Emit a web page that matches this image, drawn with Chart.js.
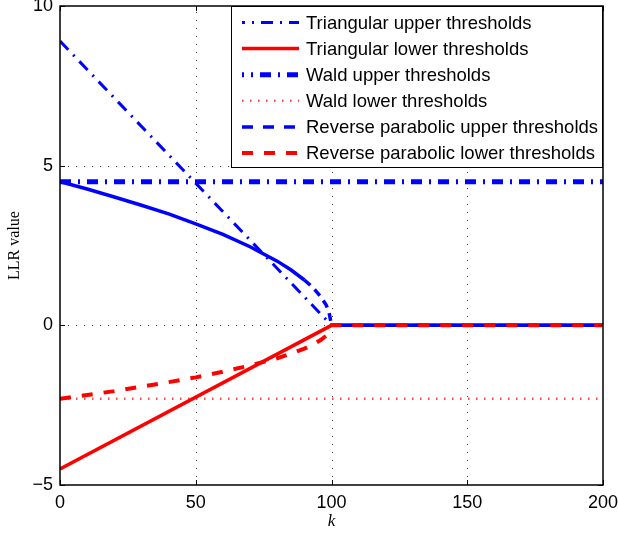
<!DOCTYPE html>
<html>
<head>
<meta charset="utf-8">
<script src="https://cdn.jsdelivr.net/npm/chart.js@4/dist/chart.umd.min.js"></script>
<style>
  html, body { margin: 0; padding: 0; background: #fff; }
  canvas { display: block; }
</style>
</head>
<body>
<canvas id="llr" width="618" height="535"></canvas>
<script>
// ─── data ───
const kTri        = [0, 100, 200];
const triUpper    = [8.9, 0, 0];
const triLower    = [-4.5, 0, 0];

const kWald       = [0, 200];
const waldUpper   = [4.5, 4.5];
const waldLower   = [-2.3, -2.3];

const kRP         = [0, 10, 20, 30, 40, 50, 60, 70, 80, 85, 90, 92, 94, 96, 98, 99, 100, 200];
const rpUpper     = [4.50, 4.27, 4.02, 3.76, 3.49, 3.18, 2.85, 2.46, 2.01, 1.74, 1.42, 1.27, 1.10, 0.90, 0.64, 0.45, 0, 0];
const rpLower     = [-2.30, -2.18, -2.06, -1.92, -1.78, -1.63, -1.45, -1.26, -1.03, -0.89, -0.73, -0.65, -0.56, -0.46, -0.33, -0.23, 0, 0];

const xTicks      = [0, 50, 100, 150, 200];
const yTicks      = [-5, 0, 5, 10];
const seriesNames = [
  'Triangular upper thresholds',
  'Triangular lower thresholds',
  'Wald upper thresholds',
  'Wald lower thresholds',
  'Reverse parabolic upper thresholds',
  'Reverse parabolic lower thresholds',
];

const BLUE = '#0000ff';
const RED  = '#ff0000';
const SANS = "'Liberation Sans', Arial, sans-serif";
const SERIF = "'Liberation Serif', 'Times New Roman', serif";

const pts = (xs, ys) => xs.map((x, i) => ({ x, y: ys[i] }));

// 画框、网格、内向刻度
const framePlugin = {
  id: 'frame',
  beforeDatasetsDraw(chart) {
    const { ctx, chartArea: a, scales: { x, y } } = chart;
    ctx.save();
    ctx.strokeStyle = 'rgba(0,0,0,0.8)';
    ctx.lineWidth = 1;
    ctx.setLineDash([1, 7]);
    xTicks.slice(1, -1).forEach((v) => {
      const px = Math.round(x.getPixelForValue(v)) + 0.5;
      ctx.beginPath(); ctx.moveTo(px, a.bottom); ctx.lineTo(px, a.top); ctx.stroke();
    });
    yTicks.slice(1, -1).forEach((v) => {
      const py = Math.round(y.getPixelForValue(v)) + 0.5;
      ctx.beginPath(); ctx.moveTo(a.left, py); ctx.lineTo(a.right, py); ctx.stroke();
    });
    ctx.restore();
  },
  afterDatasetsDraw(chart) {
    const { ctx, chartArea: a, scales: { x, y } } = chart;
    ctx.save();
    ctx.strokeStyle = '#000';
    ctx.lineWidth = 1.5;
    ctx.setLineDash([]);
    ctx.strokeRect(a.left, a.top, a.right - a.left, a.bottom - a.top);
    ctx.lineWidth = 1;
    const tl = 5;
    xTicks.forEach((v) => {
      const px = Math.round(x.getPixelForValue(v)) + 0.5;
      ctx.beginPath();
      ctx.moveTo(px, a.bottom); ctx.lineTo(px, a.bottom - tl);
      ctx.moveTo(px, a.top); ctx.lineTo(px, a.top + tl);
      ctx.stroke();
    });
    yTicks.forEach((v) => {
      const py = Math.round(y.getPixelForValue(v)) + 0.5;
      ctx.beginPath();
      ctx.moveTo(a.left, py); ctx.lineTo(a.left + tl, py);
      ctx.moveTo(a.right, py); ctx.lineTo(a.right - tl, py);
      ctx.stroke();
    });
    ctx.restore();
  },
};

// 图例（带线型）
const legendPlugin = {
  id: 'lineLegend',
  afterDraw(chart) {
    const { ctx, chartArea: a } = chart;
    const box = { left: 231, top: a.top, right: a.right, bottom: 168 };
    const rowH = 26.1;
    ctx.save();
    ctx.fillStyle = '#fff';
    ctx.fillRect(box.left, box.top, box.right - box.left, box.bottom - box.top);
    ctx.strokeStyle = '#000';
    ctx.lineWidth = 1;
    ctx.strokeRect(box.left + 0.5, box.top + 0.5, box.right - box.left - 1, box.bottom - box.top - 1);
    chart.data.datasets.forEach((ds, i) => {
      const cy = box.top + 16.5 + i * rowH;
      ctx.strokeStyle = ds.borderColor;
      ctx.lineWidth = ds.borderWidth;
      ctx.setLineDash(ds.borderDash || []);
      ctx.lineDashOffset = ds.legendDashOffset || 0;
      ctx.beginPath(); ctx.moveTo(242, cy); ctx.lineTo(299, cy); ctx.stroke();
      ctx.setLineDash([]);
      ctx.fillStyle = '#000';
      ctx.font = `18.5px ${SANS}`;
      ctx.textBaseline = 'middle';
      ctx.textAlign = 'left';
      ctx.fillText(ds.label, 306, cy + 1);
    });
    ctx.restore();
  },
};

const datasets = [
  { label: seriesNames[0], data: pts(kTri, triUpper), borderColor: BLUE, borderWidth: 3, borderDash: [12, 7, 2, 7], legendDashOffset: 9, order: 5 },
  { label: seriesNames[1], data: pts(kTri, triLower), borderColor: RED, borderWidth: 3.5, borderDash: [], order: 4 },
  { label: seriesNames[2], data: pts(kWald, waldUpper), borderColor: BLUE, borderWidth: 5, borderDash: [11, 7, 2, 7], legendDashOffset: 9, order: 3 },
  { label: seriesNames[3], data: pts(kWald, waldLower), borderColor: 'rgba(255,0,0,0.7)', borderWidth: 2.5, borderDash: [1.5, 6.5], order: 2 },
  {
    label: seriesNames[4], data: pts(kRP, rpUpper), borderColor: BLUE, borderWidth: 3.5, borderDash: [11, 10], order: 1,
    // 密集点段看起来是实线，只在尾部才露出虚线
    segment: { borderDash: (c) => (c.p0.parsed.x >= 90 && c.p0.parsed.x < 100 ? [8, 6] : []) },
  },
  { label: seriesNames[5], data: pts(kRP, rpLower), borderColor: RED, borderWidth: 4, borderDash: [11, 11], order: 0 },
];

new Chart(document.getElementById('llr'), {
  type: 'line',
  data: { datasets },
  options: {
    responsive: false,
    animation: false,
    layout: { padding: { top: 6, right: 15, left: 0, bottom: 0 } },
    elements: { point: { radius: 0 }, line: { tension: 0, fill: false, borderCapStyle: 'butt' } },
    plugins: { legend: { display: false }, tooltip: { enabled: false } },
    scales: {
      x: {
        type: 'linear', min: 0, max: 200,
        afterBuildTicks: (s) => { s.ticks = xTicks.map((v) => ({ value: v })); },
        grid: { display: false, drawTicks: false },
        border: { display: false },
        ticks: { color: '#000', font: { family: SANS, size: 18 }, padding: 7, maxRotation: 0 },
        title: { display: true, text: 'k', color: '#000', font: { family: SERIF, size: 17, style: 'italic' }, padding: { top: 0, bottom: 3 } },
        afterFit: (s) => { s.height = 50; s.paddingLeft = 0; s.paddingRight = 0; },
      },
      y: {
        type: 'linear', min: -5, max: 10,
        afterBuildTicks: (s) => { s.ticks = yTicks.map((v) => ({ value: v })); },
        grid: { display: false, drawTicks: false },
        border: { display: false },
        ticks: {
          color: '#000', font: { family: SANS, size: 18 }, padding: 7,
          callback: (v) => (v < 0 ? '\u2212' + Math.abs(v) : String(v)),
        },
        title: { display: true, text: 'LLR value', color: '#000', font: { family: SERIF, size: 16 }, padding: { top: 5, bottom: 0 } },
        afterFit: (s) => { s.width = 60; s.paddingTop = 0; s.paddingBottom = 0; },
      },
    },
  },
  plugins: [framePlugin, legendPlugin],
});
</script>
</body>
</html>
